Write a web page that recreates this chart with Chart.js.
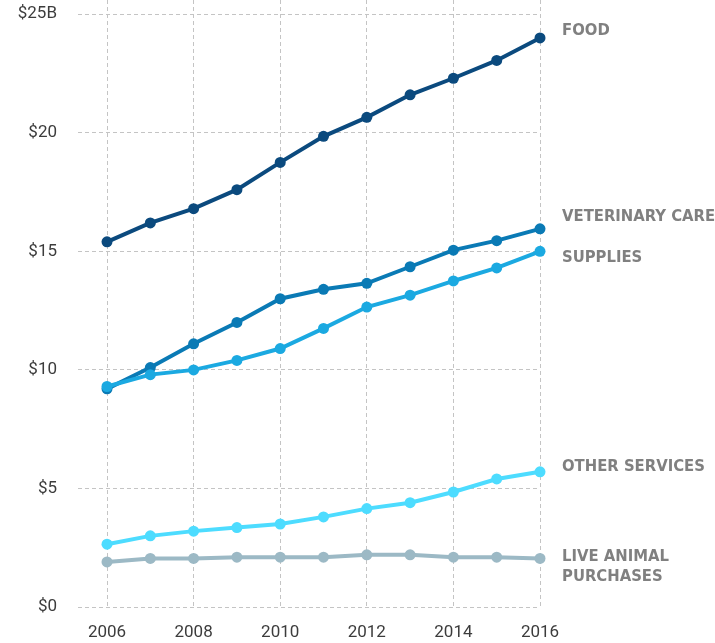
<!DOCTYPE html>
<html>
<head>
<meta charset="utf-8">
<script src="https://cdn.jsdelivr.net/npm/chart.js@4/dist/chart.umd.min.js"></script>
<style>
    body { margin: 0; background: #fff; }
    #wrap { width: 715px; height: 643px; }
</style>
</head>
<body>
<div id="wrap"><canvas id="myChart"></canvas></div>
<script>
// Dades (milers de milions de dòlars)
const years = [2006, 2007, 2008, 2009, 2010, 2011, 2012, 2013, 2014, 2015, 2016];
const food = [15.4, 16.2, 16.8, 17.6, 18.75, 19.85, 20.65, 21.6, 22.3, 23.05, 24.0];
const vetCare = [9.2, 10.1, 11.1, 12.0, 13.0, 13.4, 13.65, 14.35, 15.05, 15.45, 15.95];
const supplies = [9.3, 9.8, 10.0, 10.4, 10.9, 11.75, 12.65, 13.15, 13.75, 14.3, 15.0];
const otherServices = [2.65, 3.0, 3.2, 3.35, 3.5, 3.8, 4.15, 4.4, 4.85, 5.4, 5.7];
const liveAnimal = [1.9, 2.05, 2.05, 2.1, 2.1, 2.1, 2.2, 2.2, 2.1, 2.1, 2.05];

const seriesNames = ['FOOD', 'VETERINARY CARE', 'SUPPLIES', 'OTHER SERVICES', 'LIVE ANIMAL\nPURCHASES'];
const yTicks = [0, 5, 10, 15, 20, 25];
const xTicks = [2006, 2008, 2010, 2012, 2014, 2016];

const seriesValues = [food, vetCare, supplies, otherServices, liveAnimal];
const colors = ['#0b4a7e', '#0a7ab5', '#1ba9e1', '#4ddcff', '#9cb9c5'];
// desplaçament vertical de cada etiqueta respecte l'últim punt
const labelOffsets = [-7, -12, 6, -5, -2];

const tickFont = { family: 'Roboto, "Liberation Sans", sans-serif', size: 17 };
const gridStyle = { color: '#c4c4c4', lineWidth: 1, drawTicks: false };

// Etiquetes a la dreta de cada sèrie
const endLabels = {
    id: 'endLabels',
    afterDatasetsDraw(chart) {
        const ctx = chart.ctx;
        ctx.save();
        ctx.font = 'bold 16.5px "DejaVu Sans Condensed", "Liberation Sans Narrow", sans-serif';
        ctx.fillStyle = '#808080';
        ctx.textBaseline = 'middle';
        ctx.textAlign = 'left';
        chart.data.datasets.forEach((ds, i) => {
            const meta = chart.getDatasetMeta(i);
            const last = meta.data[meta.data.length - 1];
            const x = chart.chartArea.right + 22;
            let y = last.y + labelOffsets[i];
            ds.label.split('\n').forEach(line => {
                ctx.fillText(line, x, y);
                y += 20;
            });
        });
        ctx.restore();
    }
};

const datasets = seriesValues.map((vals, i) => ({
    label: seriesNames[i],
    data: vals.map((v, j) => ({ x: years[j], y: v })),
    borderColor: colors[i],
    backgroundColor: colors[i],
    borderWidth: 4,
    pointRadius: 5.5,
    pointHoverRadius: 5.5,
    pointBorderWidth: 0,
    tension: 0,
    clip: false
})).reverse();

// l'ordre invertit fa que FOOD quedi a sobre; cal invertir també les etiquetes
labelOffsets.reverse();

new Chart(document.getElementById('myChart'), {
    type: 'line',
    data: { datasets: datasets },
    options: {
        responsive: true,
        maintainAspectRatio: false,
        animation: false,
        layout: { autoPadding: false, padding: { left: 0, right: 175, top: 0, bottom: 0 } },
        plugins: {
            legend: { display: false },
            tooltip: { enabled: false }
        },
        scales: {
            x: {
                type: 'linear',
                min: 2005.33,
                max: 2016,
                afterBuildTicks: (scale) => { scale.ticks = xTicks.map(v => ({ value: v })); },
                afterFit: (scale) => {
                    scale.height = 36;
                    scale.paddingLeft = 0;
                    scale.paddingRight = 0;
                },
                ticks: {
                    callback: (v) => String(v),
                    font: tickFont,
                    color: '#3c3c3c',
                    padding: 16,
                    maxRotation: 0
                },
                grid: Object.assign({}, gridStyle),
                border: { display: false, dash: [4, 3] }
            },
            y: {
                min: 0,
                max: 25.6,
                afterBuildTicks: (scale) => { scale.ticks = yTicks.map(v => ({ value: v })); },
                afterFit: (scale) => {
                    scale.width = 78;
                    // sense marge extra a dalt: la graella vertical arriba fins al límit
                    scale.paddingTop = 0;
                    scale.paddingBottom = 0;
                },
                ticks: {
                    callback: (v) => v === 25 ? '$25B' : '$' + v,
                    font: tickFont,
                    color: '#3c3c3c',
                    padding: 21
                },
                grid: Object.assign({}, gridStyle),
                border: { display: false, dash: [4, 3] }
            }
        }
    },
    plugins: [endLabels]
});
</script>
</body>
</html>
